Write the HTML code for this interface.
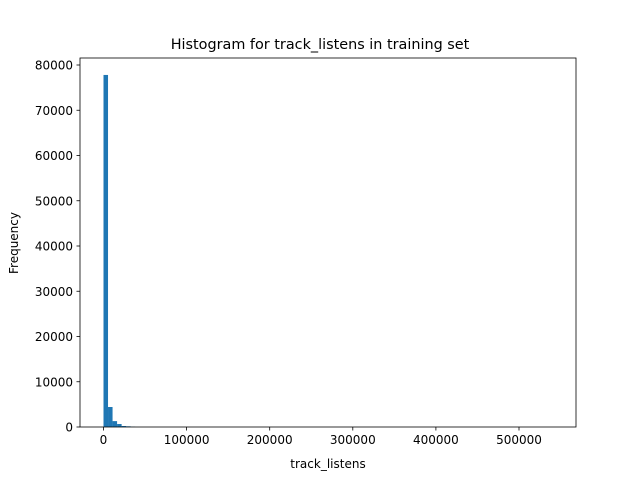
<!DOCTYPE html>
<html><head><meta charset="utf-8"><style>body{margin:0;background:#fff}svg{display:block}text{font-family:"DejaVu Sans","Liberation Sans",sans-serif;fill:#000}</style></head>
<body>
<svg id="c" width="640" height="480"></svg>
<script>
const binStarts=[0,5450,10900,16350,21800,27250,32700];
const counts=[77800,4420,1300,660,220,150,60];
const binWidth=5450;
const xTicks=[0,100000,200000,300000,400000,500000];
const yTicks=[0,10000,20000,30000,40000,50000,60000,70000,80000];
const L=80,R=576,T=58,B=427;
const xs=v=>103.5+v*(415.5/500000);
const ys=v=>B-v*(362/80000);
const svg=document.getElementById('c');
const NS='http://www.w3.org/2000/svg';
function mk(t,a,p){const e=document.createElementNS(NS,t);for(const k in a)e.setAttribute(k,a[k]);(p||svg).appendChild(e);return e;}
let e=mk('text',{x:320,y:49,'text-anchor':'middle','font-size':14.4});e.textContent='Histogram for track_listens in training set';


binStarts.forEach((s,i)=>{const r=mk('rect',{x:xs(s),y:ys(counts[i]),width:xs(s+binWidth)-xs(s),height:B-ys(counts[i]),fill:'#1f77b4'});

});
e=mk('rect',{x:L,y:T,width:R-L,height:B-T,fill:'none',stroke:'#000','stroke-width':0.8});


xTicks.forEach(v=>{mk('line',{x1:xs(v),x2:xs(v),y1:B,y2:B+3.5,stroke:'#000','stroke-width':0.8});
const t=mk('text',{x:xs(v),y:B+17,'text-anchor':'middle','font-size':12});t.textContent=v;

});
yTicks.forEach(v=>{mk('line',{x1:L-3.5,x2:L,y1:ys(v),y2:ys(v),stroke:'#000','stroke-width':0.8});
const t=mk('text',{x:L-7,y:ys(v)+4.5,'text-anchor':'end','font-size':12});t.textContent=v;

});
e=mk('text',{x:328,y:468,'text-anchor':'middle','font-size':12});e.textContent='track_listens';


e=mk('text',{x:18,y:243,'text-anchor':'middle','font-size':12,transform:'rotate(-90 18 243)'});e.textContent='Frequency';


</script>
</body></html>
